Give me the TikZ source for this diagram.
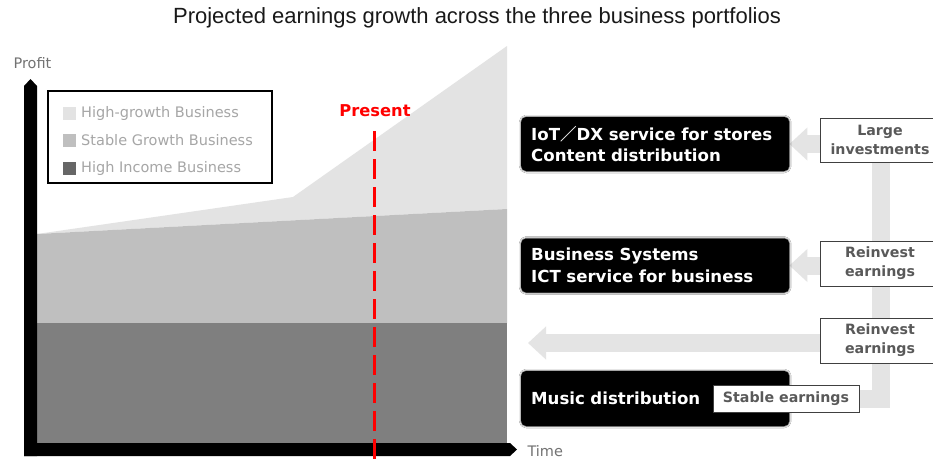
\documentclass[tikz,border=0pt]{standalone}
\usepackage{fontspec}
\setmainfont{DejaVu Sans}
\newfontfamily\titlefont{Liberation Sans}
\newfontfamily\cjk{Noto Sans CJK JP}
\usetikzlibrary{arrows.meta,backgrounds,positioning,shadows.blur}
\definecolor{hgrowth}{HTML}{E3E3E3}
\definecolor{sgrowth}{HTML}{BFBFBF}
\definecolor{hincome}{HTML}{7F7F7F}
\definecolor{flowgray}{HTML}{E4E4E4}
\definecolor{labelgray}{HTML}{595959}
\begin{document}
\begin{tikzpicture}[x=1pt,y=-1pt,
  unit/.style={fill=black,rounded corners=5pt,text=white,anchor=west,
    font=\fontsize{16.6}{21.5}\selectfont\bfseries,align=left,
    text width=248pt,inner xsep=10pt,minimum width=268pt,minimum height=54pt,
    blur shadow={shadow xshift=0pt,shadow yshift=0pt,shadow blur radius=2pt,shadow opacity=95}},
  tag/.style={draw=black!75,fill=white,line width=1pt,text=labelgray,
    font=\fontsize{14.2}{19}\selectfont\bfseries,align=center,
    minimum width=120pt,minimum height=45pt},
  key/.style={minimum size=13pt,inner sep=0pt},
  keytext/.style={text=black!35,font=\fontsize{14.5}{17}\selectfont},
  axislabel/.style={text=black!55,font=\fontsize{14.5}{17}\selectfont},
  flow/.style={draw=flowgray,line width=18pt},
  bigarrow/.style={flow,-{Triangle[width=32pt,length=18pt]}}]
\useasboundingbox (0,0) rectangle (933,459);
\clip (0,0) rectangle (933,459);

\node[font=\titlefont\fontsize{22}{26}\selectfont,text=black!90] (title) at (477,18)
  {Projected earnings growth across the three business portfolios};

% stacked profit areas
\fill[hgrowth] (37,234) -- (293,197) -- (507,46) -- (507,209) -- cycle;
\fill[sgrowth] (37,234) -- (507,209) -- (507,323) -- (37,323) -- cycle;
\fill[hincome] (37,323) rectangle (507,443);

% axes
\fill (24,456) -- (24,86) -- (30.5,79) -- (37,86) -- (37,456) -- cycle;
\fill (24,443) -- (510,443) -- (517,449.5) -- (510,456) -- (24,456) -- cycle;
\node[axislabel] (profit) at (32.5,63) {Profit};
\node[axislabel,anchor=west] (time) at (524,451) {Time};

\node[text=red,font=\fontsize{16.3}{18}\selectfont\bfseries] (present) at (375,111) {Present};
\draw[red,line width=3pt,dash pattern=on 20pt off 8pt] (374,131) -- (374,459);

% legend
\draw[line width=2pt] (48,91) rectangle (272,183);
\node[key,fill=hgrowth] (k1) at (69.5,113) {};
\node[key,fill=sgrowth] (k2) at (69.5,140) {};
\node[key,fill=black!60] (k3) at (69.5,168) {};
\node[keytext,right=1.5pt of k1] {High-growth Business};
\node[keytext,right=1.5pt of k2] {Stable Growth Business};
\node[keytext,right=1.5pt of k3] {High Income Business};

% business units
\node[unit] (iot) at (521,144) {IoT{\cjk ／}DX service for stores\\Content distribution};
\node[unit] (biz) at (521,265.5) {Business Systems\\ICT service for business};
\node[unit,minimum height=55pt] (music) at (521,398.5) {Music distribution};
\node[tag,minimum width=146pt,minimum height=27pt] (stable) at (786,398.5) {Stable earnings};

\node[tag,minimum height=44pt] (large) at (880,140) {Large\\investments};
\node[tag] (earn1) at (880,263.5) {Reinvest\\earnings};
\node[tag] (earn2) at (880,340.5) {Reinvest\\earnings};

\coordinate (trunk) at (881,140);
\coordinate (chart) at (528,343);
\begin{pgfonlayer}{background}
\fill[white] (0,0) rectangle (933,459);
\draw[flow,line join=miter] (trunk) |- (stable.east);
\draw[bigarrow] (trunk |- iot.east) -- (iot.east);
\draw[bigarrow] (trunk |- biz.east) -- (biz.east);
\draw[bigarrow] (trunk |- chart) -- (chart);
\end{pgfonlayer}
\end{tikzpicture}
\end{document}
